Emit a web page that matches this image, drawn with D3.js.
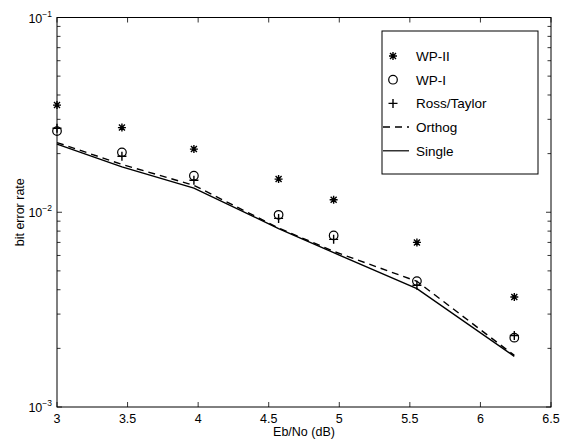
<!DOCTYPE html>
<html><head><meta charset="utf-8">
<script src="https://cdn.jsdelivr.net/npm/d3@7"></script>
<style>body{margin:0;background:#fff}svg{display:block}text{font-family:"Liberation Sans",Arial,sans-serif;fill:#000}</style>
</head><body><svg id="c" width="570" height="439"></svg>
<script>
const ebno = [3, 3.46, 3.97, 4.57, 4.96, 5.55, 6.24];
const wp2 = [0.0355, 0.0272, 0.0211, 0.0148, 0.0116, 0.0070, 0.00367];
const wp1 = [0.0261, 0.0203, 0.0154, 0.0097, 0.0076, 0.00443, 0.00227];
const rossTaylor = [0.0270, 0.0194, 0.0146, 0.0093, 0.00726, 0.00422, 0.00233];
const orthog = [0.0228, 0.0176, 0.01375, 0.0083, 0.0063, 0.00442, 0.00184];
const single = [0.0224, 0.0171, 0.0133, 0.00825, 0.0062, 0.00405, 0.00182];
const xTicks = [3, 3.5, 4, 4.5, 5, 5.5, 6, 6.5];
const yTicks = [1e-3, 1e-2, 1e-1];
const legendLabels = ["WP-II", "WP-I", "Ross/Taylor", "Orthog", "Single"];

const svg = d3.select("#c");
const L = 57, R = 551, T = 17.5, B = 407;
const x = d3.scaleLinear().domain([3, 6.5]).range([L, R]);
const y = d3.scaleLog().domain([1e-3, 1e-1]).range([B, T]);

// frame
svg.append("rect").attr("x", L).attr("y", T).attr("width", R - L).attr("height", B - T)
  .attr("fill", "none").attr("stroke", "#000").attr("stroke-width", 1);

const minor = [];
for (let e = -3; e < -1; e++) for (let m = 2; m <= 9; m++) minor.push(m * Math.pow(10, e));

const tl = 5;
const g = svg.append("g").attr("stroke", "#000").attr("stroke-width", 0.8);
xTicks.forEach(t => {
  g.append("line").attr("x1", x(t)).attr("x2", x(t)).attr("y1", B).attr("y2", B - tl);
  g.append("line").attr("x1", x(t)).attr("x2", x(t)).attr("y1", T).attr("y2", T + tl);
});
yTicks.concat(minor).forEach(t => {
  const len = yTicks.includes(t) ? tl : 3.5;
  g.append("line").attr("x1", L).attr("x2", L + len).attr("y1", y(t)).attr("y2", y(t));
  g.append("line").attr("x1", R).attr("x2", R - len).attr("y1", y(t)).attr("y2", y(t));
});

// x tick labels
xTicks.forEach(t => {
  svg.append("text").attr("x", x(t)).attr("y", B + 16).attr("text-anchor", "middle")
    .attr("font-size", 12.5).text(d3.format("")(t));
});
// y tick labels
yTicks.forEach(t => {
  const e = Math.round(Math.log10(t));
  const tx = svg.append("text").attr("x", L - 5).attr("y", y(t) + 5).attr("text-anchor", "end").attr("font-size", 12.5);
  tx.append("tspan").text("10");
  tx.append("tspan").attr("dy", -6).attr("font-size", 8.5).text("\u2212" + Math.abs(e));
});

svg.append("text").attr("x", 304).attr("y", 435.5).attr("text-anchor", "middle").attr("font-size", 12.5).text("Eb/No (dB)");
svg.append("text").attr("transform", `translate(24,${(T + B) / 2}) rotate(-90)`).attr("text-anchor", "middle").attr("font-size", 12.5).text("bit error rate");

// lines
const line = d3.line().x((d, i) => x(ebno[i])).y(d => y(d));
svg.append("path").datum(single).attr("d", line).attr("fill", "none").attr("stroke", "#000").attr("stroke-width", 1.4);
svg.append("path").datum(orthog).attr("d", line).attr("fill", "none").attr("stroke", "#000").attr("stroke-width", 1.4).attr("stroke-dasharray", "7,5");

// marker paths
const starPath = s => `M${-s},0H${s}M0,${-s}V${s}M${-s*0.75},${-s*0.75}L${s*0.75},${s*0.75}M${-s*0.75},${s*0.75}L${s*0.75},${-s*0.75}`;
const plusPath = s => `M${-s},0H${s}M0,${-s}V${s}`;

function drawMarkers(vals, kind, gg) {
  vals.forEach((v, i) => {
    const px = x(ebno[i]), py = y(v);
    if (kind === "o") gg.append("circle").attr("cx", px).attr("cy", py).attr("r", 4.3).attr("fill", "none").attr("stroke", "#000").attr("stroke-width", 1.2);
    else gg.append("path").attr("transform", `translate(${px},${py})`).attr("d", kind === "*" ? starPath(4) : plusPath(4.5)).attr("stroke", "#000").attr("stroke-width", 1.4).attr("fill", "none");
  });
}
const mg = svg.append("g");
drawMarkers(wp2, "*", mg);
drawMarkers(wp1, "o", mg);
drawMarkers(rossTaylor, "+", mg);

// legend
const lx = 382, ly = 31, lw = 156, lh = 143;
svg.append("rect").attr("x", lx).attr("y", ly).attr("width", lw).attr("height", lh).attr("fill", "#fff").attr("stroke", "#000").attr("stroke-width", 1);
legendLabels.forEach((lab, i) => {
  const yy = ly + 25 + i * 23.7;
  const mx = lx + 11;
  if (i === 0) svg.append("path").attr("transform", `translate(${mx},${yy})`).attr("d", starPath(4)).attr("stroke", "#000").attr("stroke-width", 1.4);
  if (i === 1) svg.append("circle").attr("cx", mx).attr("cy", yy).attr("r", 4.3).attr("fill", "none").attr("stroke", "#000").attr("stroke-width", 1.2);
  if (i === 2) svg.append("path").attr("transform", `translate(${mx},${yy})`).attr("d", plusPath(4.5)).attr("stroke", "#000").attr("stroke-width", 1.4);
  if (i === 3) svg.append("line").attr("x1", lx + 1).attr("x2", lx + 27).attr("y1", yy).attr("y2", yy).attr("stroke", "#000").attr("stroke-width", 1.5).attr("stroke-dasharray", "7,5");
  if (i === 4) svg.append("line").attr("x1", lx + 1).attr("x2", lx + 27).attr("y1", yy).attr("y2", yy).attr("stroke", "#000").attr("stroke-width", 1.2);
  svg.append("text").attr("x", lx + 34).attr("y", yy + 5).attr("font-size", 13.5).text(lab);
});
</script></body></html>
